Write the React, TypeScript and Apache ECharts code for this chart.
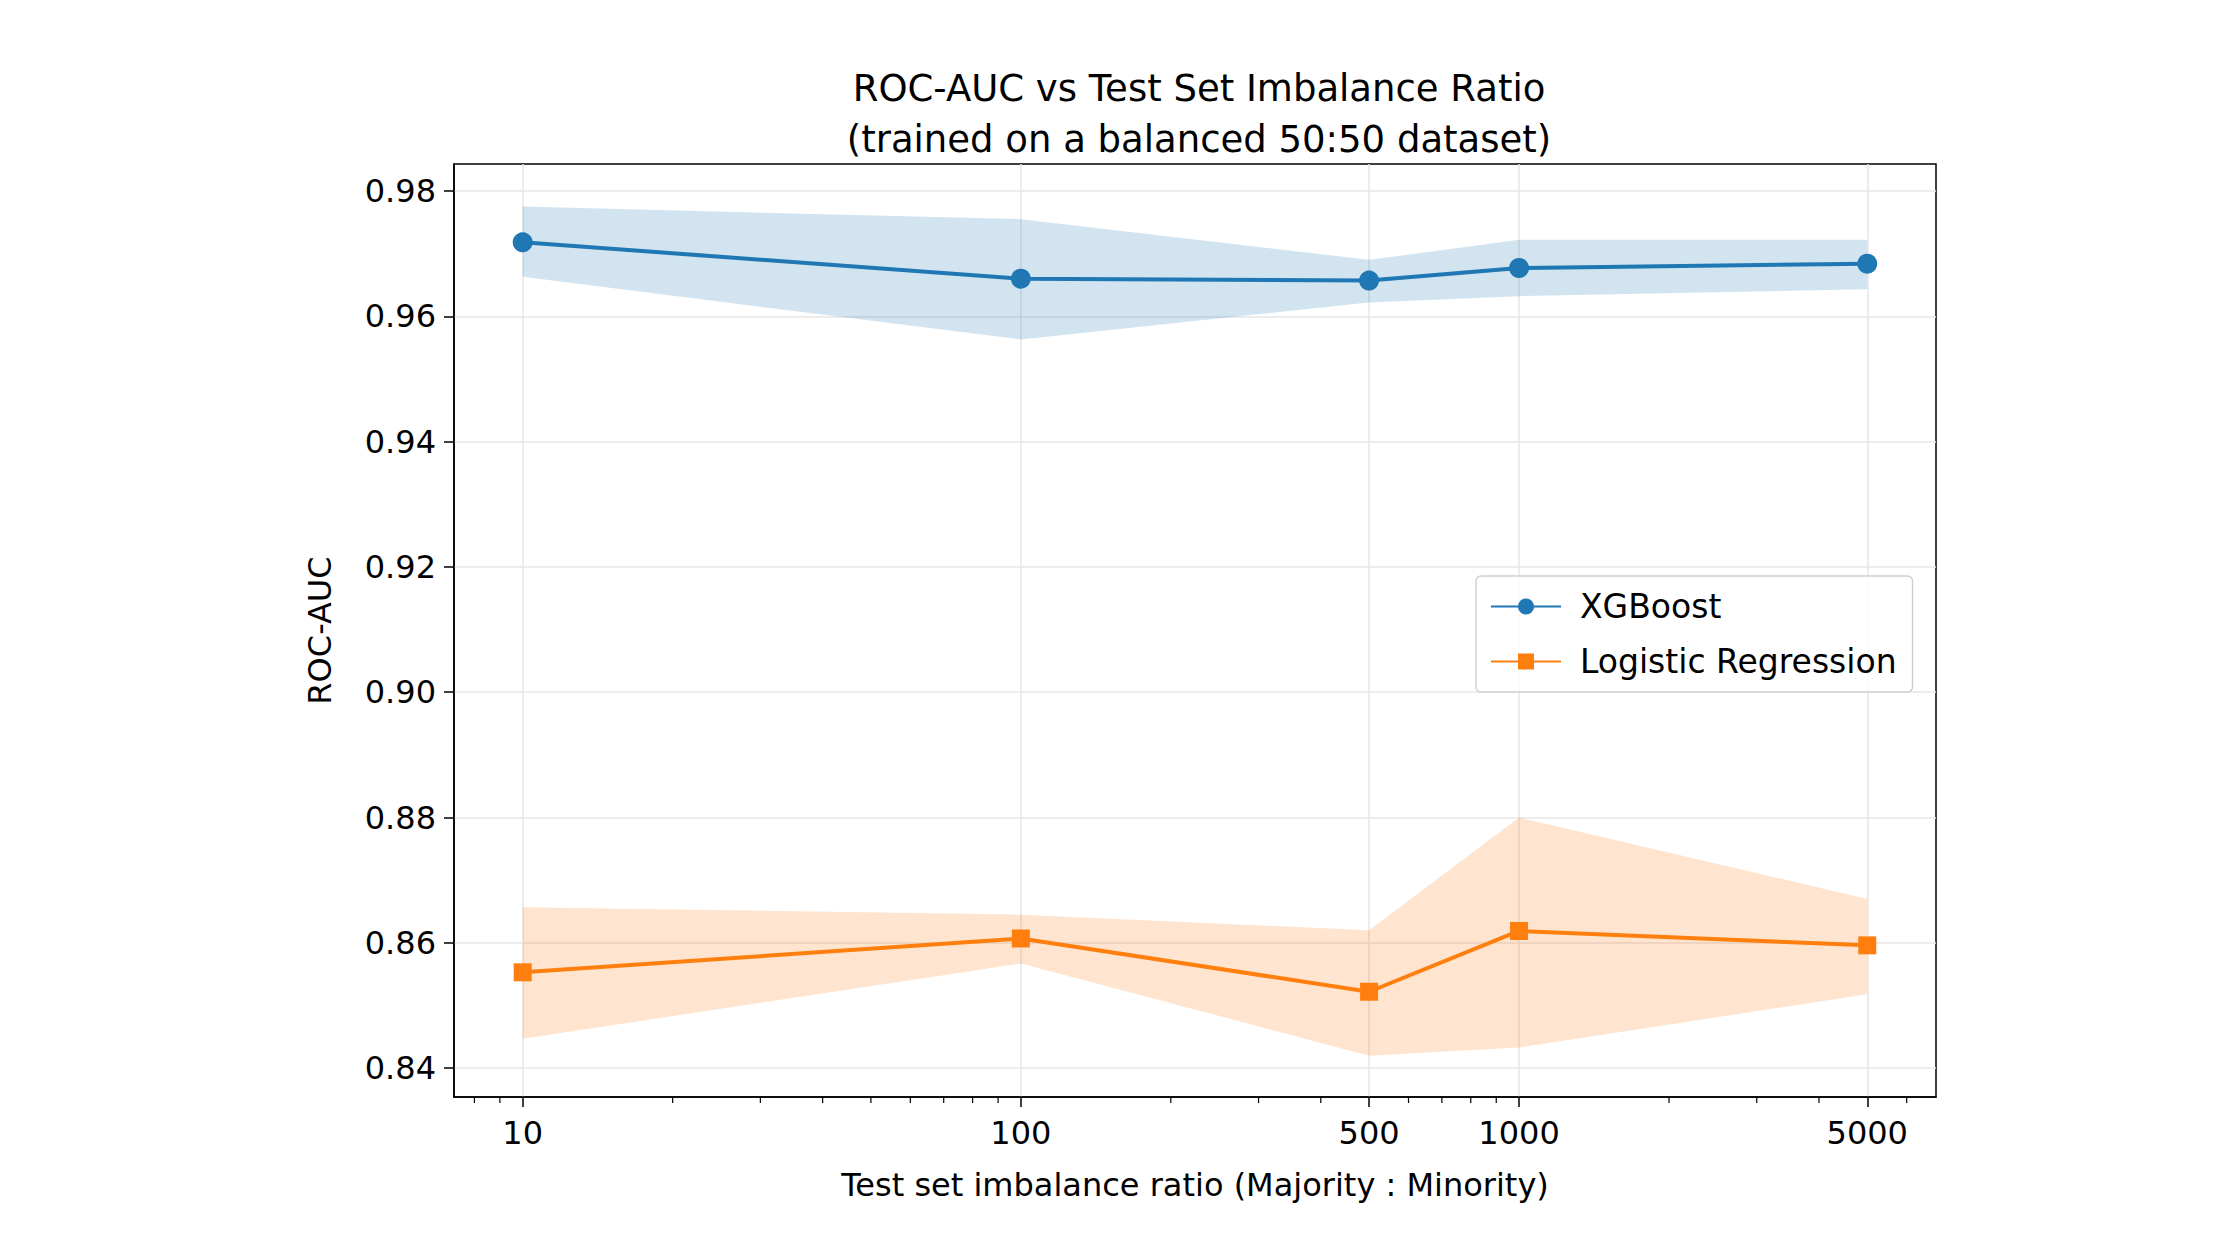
import React, { useEffect, useRef } from 'react';
import * as echarts from 'echarts';

const ratios = [10, 100, 500, 1000, 5000];
const xgbMean = [0.9718, 0.966, 0.9657, 0.9677, 0.9684];
const xgbUpper = [0.9775, 0.9755, 0.969, 0.9722, 0.9722];
const xgbLower = [0.9663, 0.9563, 0.9622, 0.9632, 0.9643];
const lrMean = [0.8553, 0.8607, 0.8522, 0.8619, 0.8596];
const lrUpper = [0.8657, 0.8645, 0.862, 0.88, 0.867];
const lrLower = [0.8447, 0.8567, 0.842, 0.8433, 0.8518];
const yTicks = [0.84, 0.86, 0.88, 0.9, 0.92, 0.94, 0.96, 0.98];
const minorTicks = [8, 9, 20, 30, 40, 50, 60, 70, 80, 90, 200, 300, 400, 600, 700, 800, 900, 2000, 3000, 4000, 6000];

const FONT = 'DejaVu Sans';
const BLUE = '#1f77b4';
const ORANGE = '#ff7f0e';

const band = (upper: number[], lower: number[], color: string) => ({
  type: 'custom',
  silent: true,
  z: 1,
  data: [0],
  renderItem: (_p: any, api: any) => {
    const pts = [
      ...ratios.map((r, i) => api.coord([r, upper[i]])),
      ...ratios.map((r, i) => api.coord([r, lower[i]])).reverse(),
    ];
    return { type: 'polygon', shape: { points: pts }, style: { fill: color } };
  },
});

export default function App() {
  const ref = useRef<HTMLDivElement>(null);

  useEffect(() => {
    document.body.style.margin = '0';
    if (!ref.current) return;
    const chart = echarts.init(ref.current, undefined, { renderer: 'svg' });
    const grid = '#e6e6e6';
    chart.setOption({
      animation: false,
      textStyle: { fontFamily: FONT },
      title: {
        text: 'ROC-AUC vs Test Set Imbalance Ratio\n(trained on a balanced 50:50 dataset)',
        left: 1194,
        textAlign: 'center',
        top: 58,
        textStyle: { fontSize: 37, fontWeight: 'normal', color: '#000', lineHeight: 51, fontFamily: FONT },
      },
      grid: { left: 454, right: 304, top: 164, bottom: 163, show: true, borderColor: '#000', borderWidth: 1.5, backgroundColor: 'transparent' },
      legend: {
        orient: 'vertical',
        left: 1476,
        top: 576,
        padding: [14, 16, 14, 14],
        itemGap: 22,
        itemWidth: 70,
        itemHeight: 20,
        borderColor: '#d0d0d0',
        borderWidth: 1.5,
        borderRadius: 5,
        backgroundColor: 'rgba(255,255,255,0.8)',
        textStyle: { fontSize: 33, color: '#000', fontFamily: FONT, padding: [0, 0, 0, 14] },
        data: ['XGBoost', 'Logistic Regression'],
      },
      xAxis: {
        type: 'log',
        logBase: 10,
        min: 7.28,
        max: 6870,
        name: 'Test set imbalance ratio (Majority : Minority)',
        nameLocation: 'middle',
        nameGap: 72,
        nameTextStyle: { fontSize: 32, color: '#000' },
        axisLine: { lineStyle: { color: '#000', width: 1.5 } },
        axisTick: { customValues: ratios, length: 10, lineStyle: { color: '#000', width: 1.5 } },
        axisLabel: { customValues: ratios, fontSize: 32, color: '#000', margin: 20, formatter: (v: number) => String(Math.round(v)) },
        splitLine: { show: false },
      },
      yAxis: {
        type: 'value',
        min: 0.8354,
        max: 0.9843,
        name: 'ROC-AUC',
        nameLocation: 'middle',
        nameGap: 118,
        nameTextStyle: { fontSize: 32, color: '#000' },
        axisLine: { show: true, lineStyle: { color: '#000', width: 1.5 } },
        axisTick: { show: true, customValues: yTicks, length: 10, lineStyle: { color: '#000', width: 1.5 } },
        axisLabel: { customValues: yTicks, fontSize: 32, color: '#000', margin: 18, formatter: (v: number) => v.toFixed(2) },
        splitLine: { show: false },
      },
      series: [
        band(xgbUpper, xgbLower, 'rgba(31,119,180,0.2)'),
        band(lrUpper, lrLower, 'rgba(255,127,14,0.2)'),
        {
          type: 'custom',
          silent: true,
          clip: false,
          data: [0],
          renderItem: (_p: any, api: any) => ({
            type: 'group',
            children: minorTicks.map((m) => {
              const [x, y] = api.coord([m, 0.8354]);
              return { type: 'line', shape: { x1: x, y1: y, x2: x, y2: y + 6 }, style: { stroke: '#000', lineWidth: 1.2 } };
            }),
          }),
        },
        {
          name: 'XGBoost',
          type: 'line',
          z: 3,
          data: ratios.map((r, i) => [r, xgbMean[i]]),
          symbol: 'circle',
          symbolSize: 20,
          itemStyle: { color: BLUE },
          lineStyle: { color: BLUE, width: 4 },
          markLine: {
            silent: true,
            symbol: 'none',
            label: { show: false },
            lineStyle: { color: grid, type: 'solid', width: 1.5 },
            z: 0,
            data: [...ratios.map((r) => ({ xAxis: r })), ...yTicks.map((t) => ({ yAxis: t }))],
          },
        },
        {
          name: 'Logistic Regression',
          type: 'line',
          z: 3,
          data: ratios.map((r, i) => [r, lrMean[i]]),
          symbol: 'rect',
          symbolSize: 18,
          itemStyle: { color: ORANGE },
          lineStyle: { color: ORANGE, width: 4 },
        },
      ],
    });
    return () => chart.dispose();
  }, []);

  return <div ref={ref} style={{ width: 2240, height: 1260 }} />;
}
